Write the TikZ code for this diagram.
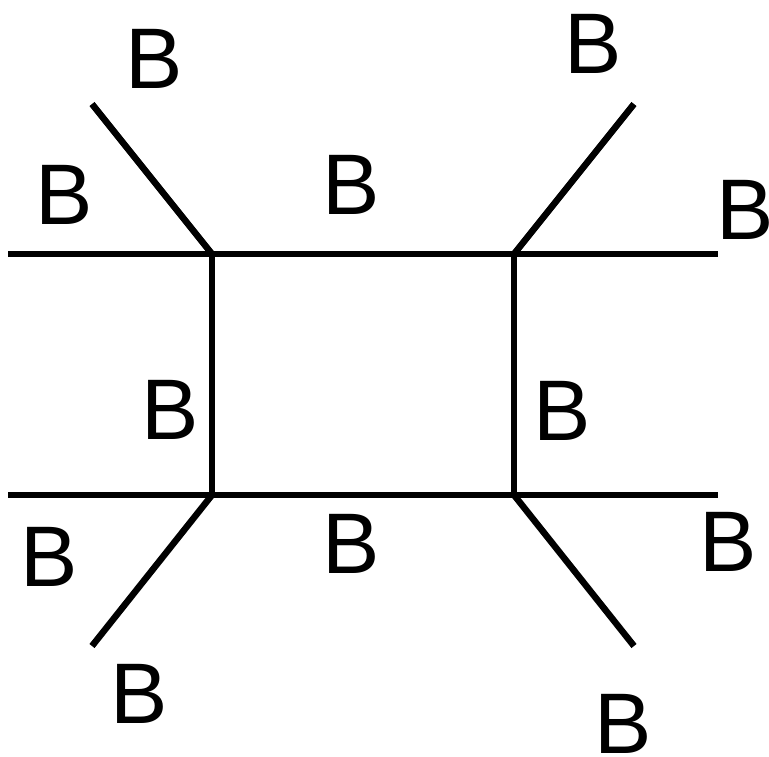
\documentclass[tikz,border=0pt]{standalone}
\usepackage{fontspec}
\setmainfont{Liberation Sans}
\begin{document}
\begin{tikzpicture}[x=1pt,y=-1pt,
  edge/.style={line width=6.5pt,line cap=butt},
  lbl/.style={inner sep=0pt,anchor=center,font=\fontsize{86}{90}\selectfont}]
\useasboundingbox (0,0) rectangle (769,756);
% square corners
\coordinate (tl) at (212,254);
\coordinate (tr) at (514,254);
\coordinate (bl) at (212,495);
\coordinate (br) at (514,495);
% free ends
\coordinate (lt) at (8,254);
\coordinate (lb) at (8,495);
\coordinate (rt) at (718,254);
\coordinate (rb) at (718,495);
\coordinate (dtl) at (92,104);
\coordinate (dtr) at (634,104);
\coordinate (dbl) at (92,646);
\coordinate (dbr) at (634,646);
\draw[edge,line join=miter] (tl) -- (tr) -- (br) -- (bl) -- cycle;
\draw[edge] (lt) -- (tl);
\draw[edge] (lb) -- (bl);
\draw[edge] (tr) -- (rt);
\draw[edge] (br) -- (rb);
\draw[edge] (tl) -- (dtl);
\draw[edge] (tr) -- (dtr);
\draw[edge] (bl) -- (dbl);
\draw[edge] (br) -- (dbr);
% labels
\node[lbl] (b1) at (154,59) {B};
\node[lbl] (b2) at (64,195) {B};
\node[lbl] (b3) at (351,185) {B};
\node[lbl] (b4) at (593,44) {B};
\node[lbl] (b5) at (745,210) {B};
\node[lbl] (b6) at (170,410) {B};
\node[lbl] (b7) at (562,411) {B};
\node[lbl] (b8) at (49,557) {B};
\node[lbl] (b9) at (351,544) {B};
\node[lbl] (b10) at (728,542) {B};
\node[lbl] (b11) at (139,694) {B};
\node[lbl] (b12) at (623,724) {B};
\end{tikzpicture}
\end{document}
